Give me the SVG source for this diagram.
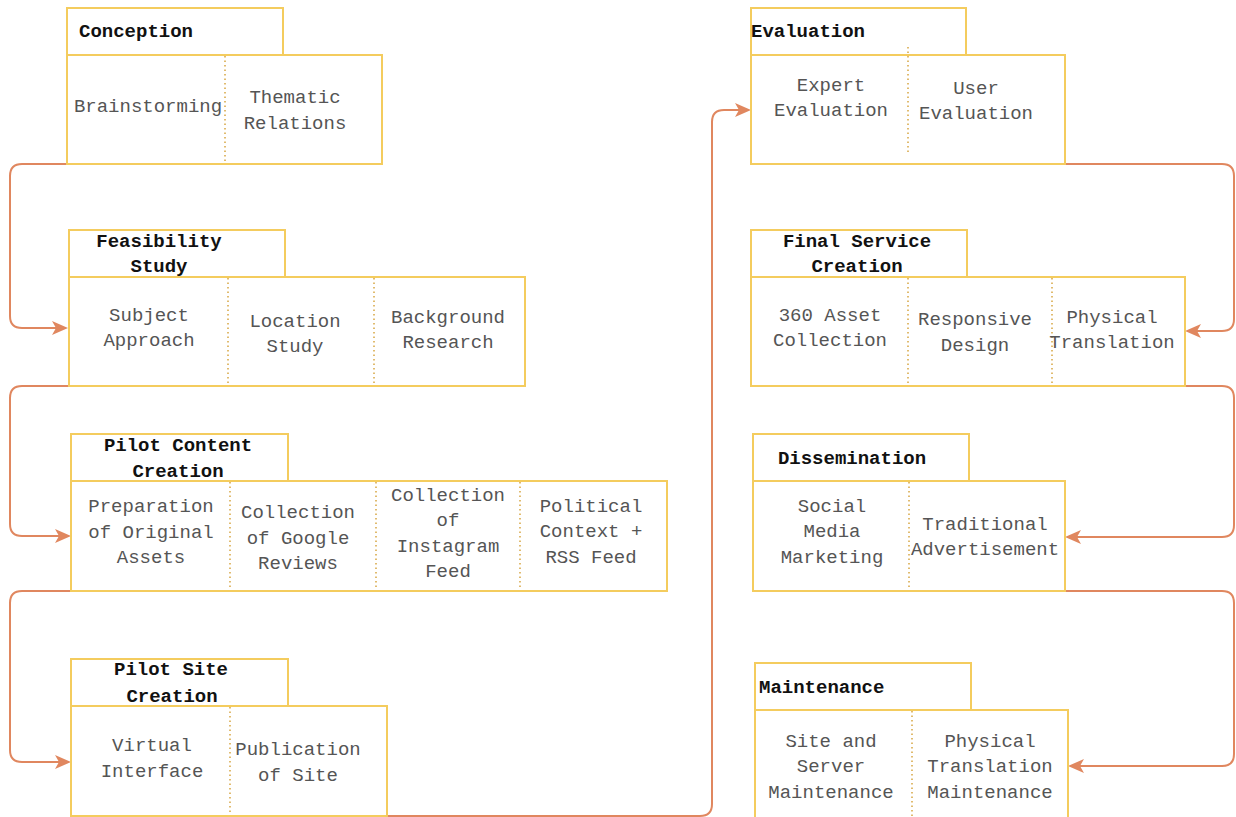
<svg xmlns="http://www.w3.org/2000/svg" width="1236" height="817" viewBox="0 0 1236 817">
<style>
.box{fill:#fff;stroke:#f4cc5e;stroke-width:2}
.div{stroke:#d9ab4c;stroke-width:1.6;stroke-dasharray:1.5 3;fill:none}
.t{font-family:"Liberation Mono","Courier New",monospace;font-size:19px;fill:#555;text-anchor:middle}
.h{font-family:"Liberation Mono","Courier New",monospace;font-size:19px;font-weight:bold;fill:#111}
.hc{text-anchor:middle}
.c{fill:none;stroke:#e0875f;stroke-width:2}
</style>
<defs>
<marker id="arr" viewBox="0 0 16 14" refX="13" refY="7" markerWidth="16" markerHeight="14" markerUnits="userSpaceOnUse" orient="auto">
<path d="M0,0 L16,7 L0,14 L4,7 z" fill="#e0875f"/>
</marker>
</defs>
<rect width="1236" height="817" fill="#fff"/>
<g id="connectors">
<path class="c" marker-end="url(#arr)" d="M67,164 H22 Q10,164 10,176 V316 Q10,328 22,328 H65"/>
<path class="c" marker-end="url(#arr)" d="M69,386 H22 Q10,386 10,398 V524 Q10,536 22,536 H68"/>
<path class="c" marker-end="url(#arr)" d="M71,591 H22 Q10,591 10,603 V750 Q10,762 22,762 H68"/>
<path class="c" marker-end="url(#arr)" d="M387,816 H700 Q712,816 712,804 V122 Q712,110 724,110 H748"/>
<path class="c" marker-end="url(#arr)" d="M1065,164 H1222 Q1234,164 1234,176 V319 Q1234,331 1222,331 H1188"/>
<path class="c" marker-end="url(#arr)" d="M1185,386 H1222 Q1234,386 1234,398 V525 Q1234,537 1222,537 H1068"/>
<path class="c" marker-end="url(#arr)" d="M1065,591 H1222 Q1234,591 1234,603 V754 Q1234,766 1222,766 H1071"/>
</g>
<g id="conception">
<rect class="box" x="67" y="8" width="216" height="47"/>
<rect class="box" x="67" y="55" width="315" height="109"/>
<line class="div" x1="225" y1="56" x2="225" y2="163"/>
<text class="h" x="79" y="37">Conception</text>
<text class="t" x="148" y="112">Brainstorming</text>
<text class="t" x="295" y="103">Thematic</text>
<text class="t" x="295" y="129">Relations</text>
</g>
<g id="feasibility">
<rect class="box" x="69" y="230" width="216" height="47"/>
<rect class="box" x="69" y="277" width="456" height="109"/>
<line class="div" x1="228" y1="278" x2="228" y2="385"/>
<line class="div" x1="374" y1="278" x2="374" y2="385"/>
<text class="h hc" x="159" y="247">Feasibility</text>
<text class="h hc" x="159" y="272">Study</text>
<text class="t" x="149" y="321">Subject</text>
<text class="t" x="149" y="346">Approach</text>
<text class="t" x="295" y="327">Location</text>
<text class="t" x="295" y="352">Study</text>
<text class="t" x="448" y="323">Background</text>
<text class="t" x="448" y="348">Research</text>
</g>
<g id="pilot-content">
<rect class="box" x="71" y="434" width="217" height="47"/>
<rect class="box" x="71" y="481" width="596" height="110"/>
<line class="div" x1="230" y1="482" x2="230" y2="590"/>
<line class="div" x1="376" y1="482" x2="376" y2="590"/>
<line class="div" x1="520" y1="482" x2="520" y2="590"/>
<text class="h hc" x="178" y="451">Pilot Content</text>
<text class="h hc" x="178" y="477">Creation</text>
<text class="t" x="151" y="512">Preparation</text>
<text class="t" x="151" y="538">of Original</text>
<text class="t" x="151" y="563">Assets</text>
<text class="t" x="298" y="518">Collection</text>
<text class="t" x="298" y="544">of Google</text>
<text class="t" x="298" y="569">Reviews</text>
<text class="t" x="448" y="501">Collection</text>
<text class="t" x="448" y="526">of</text>
<text class="t" x="448" y="552">Instagram</text>
<text class="t" x="448" y="577">Feed</text>
<text class="t" x="591" y="512">Political</text>
<text class="t" x="591" y="537">Context +</text>
<text class="t" x="591" y="563">RSS Feed</text>
</g>
<g id="pilot-site">
<rect class="box" x="71" y="659" width="217" height="47"/>
<rect class="box" x="71" y="706" width="316" height="110"/>
<line class="div" x1="230" y1="707" x2="230" y2="815"/>
<text class="h hc" x="171" y="675">Pilot Site</text>
<text class="h hc" x="172" y="702">Creation</text>
<text class="t" x="152" y="751">Virtual</text>
<text class="t" x="152" y="777">Interface</text>
<text class="t" x="298" y="755">Publication</text>
<text class="t" x="298" y="781">of Site</text>
</g>
<g id="evaluation">
<rect class="box" x="751" y="8" width="215" height="47"/>
<rect class="box" x="751" y="55" width="314" height="109"/>
<line class="div" x1="908" y1="47" x2="908" y2="155"/>
<text class="h" x="751" y="37">Evaluation</text>
<text class="t" x="831" y="91">Expert</text>
<text class="t" x="831" y="116">Evaluation</text>
<text class="t" x="976" y="94">User</text>
<text class="t" x="976" y="119">Evaluation</text>
</g>
<g id="final-service">
<rect class="box" x="751" y="230" width="216" height="47"/>
<rect class="box" x="751" y="277" width="434" height="109"/>
<line class="div" x1="908" y1="278" x2="908" y2="385"/>
<line class="div" x1="1052" y1="278" x2="1052" y2="385"/>
<text class="h hc" x="857" y="247">Final Service</text>
<text class="h hc" x="857" y="272">Creation</text>
<text class="t" x="830" y="321">360 Asset</text>
<text class="t" x="830" y="346">Collection</text>
<text class="t" x="975" y="325">Responsive</text>
<text class="t" x="975" y="351">Design</text>
<text class="t" x="1112" y="323">Physical</text>
<text class="t" x="1112" y="348">Translation</text>
</g>
<g id="dissemination">
<rect class="box" x="753" y="434" width="216" height="47"/>
<rect class="box" x="753" y="481" width="312" height="110"/>
<line class="div" x1="909" y1="482" x2="909" y2="590"/>
<text class="h hc" x="852" y="464">Dissemination</text>
<text class="t" x="832" y="512">Social</text>
<text class="t" x="832" y="537">Media</text>
<text class="t" x="832" y="563">Marketing</text>
<text class="t" x="985" y="530">Traditional</text>
<text class="t" x="985" y="555">Advertisement</text>
</g>
<g id="maintenance">
<rect class="box" x="755" y="663" width="216" height="47"/>
<rect class="box" x="755" y="710" width="313" height="110"/>
<line class="div" x1="912" y1="711" x2="912" y2="817"/>
<text class="h" x="759" y="693">Maintenance</text>
<text class="t" x="831" y="747">Site and</text>
<text class="t" x="831" y="772">Server</text>
<text class="t" x="831" y="798">Maintenance</text>
<text class="t" x="990" y="747">Physical</text>
<text class="t" x="990" y="772">Translation</text>
<text class="t" x="990" y="798">Maintenance</text>
</g>
</svg>
